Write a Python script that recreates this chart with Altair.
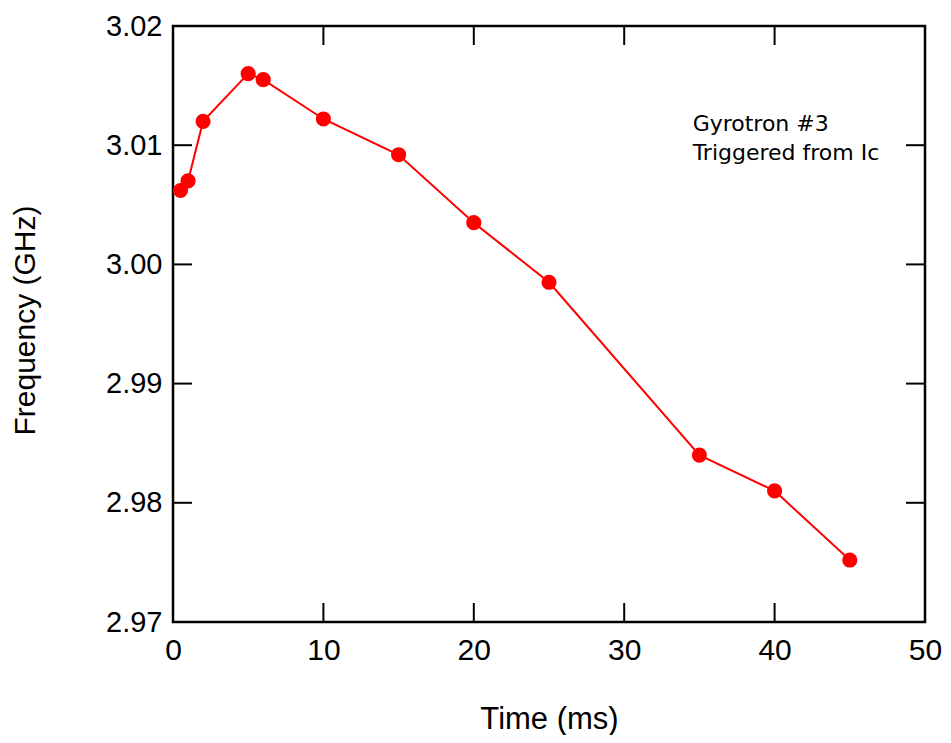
import altair as alt
import pandas as pd

# Data
time_ms = [0.5, 1, 2, 5, 6, 10, 15, 20, 25, 35, 40, 45]
freq_ghz = [3.0062, 3.0070, 3.0120, 3.0160, 3.0155, 3.0122, 3.0092, 3.0035, 2.9985, 2.9840, 2.9810, 2.9752]

x_ticks = [0, 10, 20, 30, 40, 50]
y_ticks = [2.97, 2.98, 2.99, 3.00, 3.01, 3.02]
x_inner_ticks = [10, 20, 30, 40]
y_inner_ticks = [2.98, 2.99, 3.00, 3.01]

note_lines = ["Gyrotron #3", "Triggered from Ic"]
note_x = 34.55
note_y = 3.0112

W, H = 752, 596
TICK = 19
FONT = "Liberation Sans, Arial, sans-serif"

df = pd.DataFrame({"t": time_ms, "f": freq_ghz})
xt = pd.DataFrame({"t": x_inner_ticks})
yt = pd.DataFrame({"f": y_inner_ticks})
nd = pd.DataFrame({"nx": [note_x], "ny": [note_y]})

xscale = alt.Scale(domain=[0, 50], nice=False, zero=False)
yscale = alt.Scale(domain=[2.97, 3.02], nice=False, zero=False)

xaxis = alt.Axis(
    values=x_ticks, format="d", ticks=False, domain=False, grid=False,
    labelFontSize=30, labelFont=FONT, labelColor="black", labelPadding=13,
    title="Time (ms)", titleFontSize=31, titleFont=FONT, titleFontWeight="normal",
    titleColor="black", titleX=W / 2, titleY=97, titleBaseline="middle",
    labelFlush=False, labelOverlap=False,
)
yaxis = alt.Axis(
    values=y_ticks, format=".2f", ticks=False, domain=False, grid=False,
    labelFontSize=29, labelFont=FONT, labelColor="black", labelPadding=11,
    title="Frequency (GHz)", titleFontSize=30, titleFont=FONT, titleFontWeight="normal",
    titleColor="black", titleX=-148, titleY=H / 2 - 4, titleAngle=-90, titleBaseline="middle",
    labelFlush=False, labelOverlap=False,
)

base = alt.Chart(df)
line = base.mark_line(color="#ff0000", strokeWidth=2).encode(
    x=alt.X("t:Q", scale=xscale, axis=xaxis),
    y=alt.Y("f:Q", scale=yscale, axis=yaxis),
)
pts = base.mark_circle(color="#ff0000", opacity=1, size=230).encode(
    x=alt.X("t:Q", scale=xscale),
    y=alt.Y("f:Q", scale=yscale),
)

tick_style = dict(color="black", strokeWidth=2)
bottom_ticks = alt.Chart(xt).mark_rule(**tick_style).encode(
    x=alt.X("t:Q", scale=xscale), y=alt.value(H), y2=alt.value(H - TICK))
top_ticks = alt.Chart(xt).mark_rule(**tick_style).encode(
    x=alt.X("t:Q", scale=xscale), y=alt.value(0), y2=alt.value(TICK))
left_ticks = alt.Chart(yt).mark_rule(**tick_style).encode(
    y=alt.Y("f:Q", scale=yscale), x=alt.value(0), x2=alt.value(TICK))
right_ticks = alt.Chart(yt).mark_rule(**tick_style).encode(
    y=alt.Y("f:Q", scale=yscale), x=alt.value(W), x2=alt.value(W - TICK))

note = alt.Chart(nd).mark_text(
    align="left", baseline="alphabetic", fontSize=22, font="DejaVu Sans",
    color="black", lineHeight=29,
).encode(
    x=alt.X("nx:Q", scale=xscale),
    y=alt.Y("ny:Q", scale=yscale),
    text=alt.value(note_lines),
)

chart = alt.layer(
    line, pts, bottom_ticks, top_ticks, left_ticks, right_ticks, note
).properties(
    width=W, height=H,
    background="white",
    autosize=alt.AutoSizeParams(type="none"),
    padding={"left": 165, "top": 18, "right": 18, "bottom": 113},
).configure_view(
    stroke="black", strokeWidth=2.5
)

chart.save("out.html", embed_options={"renderer": "svg", "actions": False})
